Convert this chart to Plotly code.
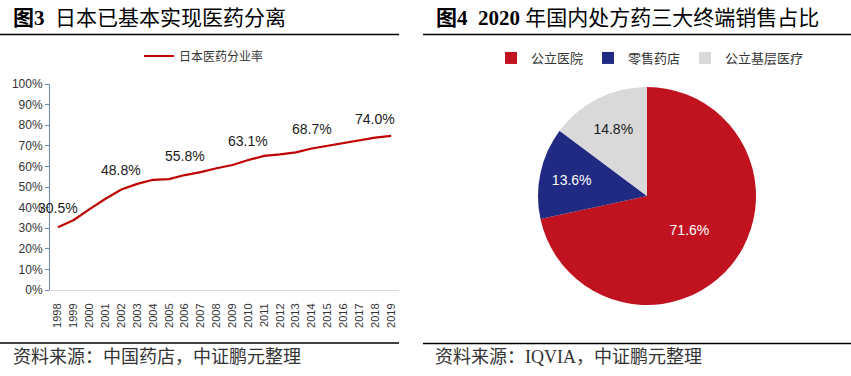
import plotly.graph_objects as go

# ---- data ----
years = [str(y) for y in range(1998, 2020)]
share = [30.5, 34.0, 39.3, 44.3, 48.8, 51.5, 53.5, 53.8, 55.8, 57.2, 59.1, 60.7,
         63.1, 65.1, 65.8, 66.8, 68.7, 70.0, 71.6, 72.8, 74.0, 74.8]
label_years = ["1998", "2002", "2006", "2010", "2014", "2018"]
line_name = "日本医药分业率"

pie_labels = ["公立医院", "零售药店", "公立基层医疗"]
pie_values = [71.6, 13.6, 14.8]
pie_colors = ["#C1121F", "#212A83", "#D9D9D9"]
pie_text_colors = ["#FFFFFF", "#FFFFFF", "#1A1A1A"]

title_left = "<b>图3</b>  日本已基本实现医药分离"
title_right = "<b>图4  2020</b> 年国内处方药三大终端销售占比"
source_left = "资料来源：中国药店，中证鹏元整理"
source_right = "资料来源：IQVIA，中证鹏元整理"

W, H = 851, 376
def px(x): return x / W
def py(y): return (H - y) / H

fig = go.Figure()

fig.add_trace(go.Scatter(
    x=years, y=[v / 100 for v in share], mode="lines", name=line_name,
    line=dict(color="#C00000", width=2.2),
    legend="legend", showlegend=True, cliponaxis=False,
))

for i, (y, v) in enumerate(zip(years, share)):
    if y in label_years:
        fig.add_annotation(x=i, y=v / 100, xref="x", yref="y", text=f"{v:.1f}%",
                           showarrow=False, yshift=19,
                           font=dict(family="Arial, Liberation Sans", size=14, color="#1A1A1A"))

fig.add_trace(go.Pie(
    labels=pie_labels, values=pie_values, sort=False, direction="clockwise",
    rotation=0, marker=dict(colors=pie_colors, line=dict(width=0)),
    texttemplate="%{value:.1f}%", textposition="inside",
    insidetextorientation="horizontal",
    insidetextfont=dict(family="Arial, Liberation Sans", size=14, color=pie_text_colors),
    domain=dict(x=[px(538), px(756)], y=[py(305), py(87)]),
    legend="legend2", hoverinfo="label+percent",
))

fig.update_layout(
    width=W, height=H, margin=dict(l=0, r=0, t=0, b=0, autoexpand=False),
    paper_bgcolor="white", plot_bgcolor="white",
    font=dict(family="Arial, Liberation Sans, Noto Sans CJK SC", color="#333333"),
    xaxis=dict(domain=[px(50), px(399)], type="category", showgrid=False,
               range=[-0.5, len(years) - 0.5],
               showline=True, linecolor="#D9D9D9", linewidth=1, automargin=False,
               tickangle=-90, tickfont=dict(size=11, color="#333333"),
               ticks="", ticklabelstandoff=8, fixedrange=True),
    yaxis=dict(domain=[py(290), py(84)], range=[0, 1], dtick=0.1, automargin=False,
               tickformat=".0%", showgrid=False, zeroline=False,
               showline=True, linecolor="#6A88C2", linewidth=1,
               ticks="outside", ticklen=4, tickcolor="#6A88C2",
               tickfont=dict(size=12, color="#333333"), fixedrange=True),
    legend=dict(orientation="h", x=px(139), xanchor="left", y=py(56), yanchor="middle",
                font=dict(family="Noto Sans CJK SC", size=12, color="#333333"),
                bgcolor="rgba(0,0,0,0)"),
    legend2=dict(orientation="h", x=px(650), xanchor="center", y=py(58), yanchor="middle",
                 font=dict(family="Noto Sans CJK SC", size=13, color="#333333"),
                 bgcolor="rgba(0,0,0,0)", itemsizing="constant"),
    showlegend=True,
)

serif = "Liberation Serif, Noto Sans CJK SC"
ann = [
    dict(text=title_left, x=px(11), y=py(18), xanchor="left", yanchor="middle",
         font=dict(family=serif, size=21, color="#000000")),
    dict(text=title_right, x=px(434), y=py(18), xanchor="left", yanchor="middle",
         font=dict(family=serif, size=21, color="#000000")),
    dict(text=source_left, x=px(11), y=py(357), xanchor="left", yanchor="middle",
         font=dict(family=serif, size=18, color="#333333")),
    dict(text=source_right, x=px(433), y=py(357), xanchor="left", yanchor="middle",
         font=dict(family=serif, size=18, color="#333333")),
]
for a in ann:
    fig.add_annotation(xref="paper", yref="paper", showarrow=False, **a)

for x0, x1, y in [(0, 399, 34.5), (423, 851, 34.5), (0, 399, 343), (423, 851, 343.5)]:
    fig.add_shape(type="line", xref="paper", yref="paper",
                  x0=px(x0), x1=px(x1), y0=py(y), y1=py(y),
                  line=dict(color="#000000", width=1.6))

fig.write_html("out.html",
               config={"displayModeBar": False},
               post_script="document.body.style.margin='0';document.body.style.overflow='hidden';")
